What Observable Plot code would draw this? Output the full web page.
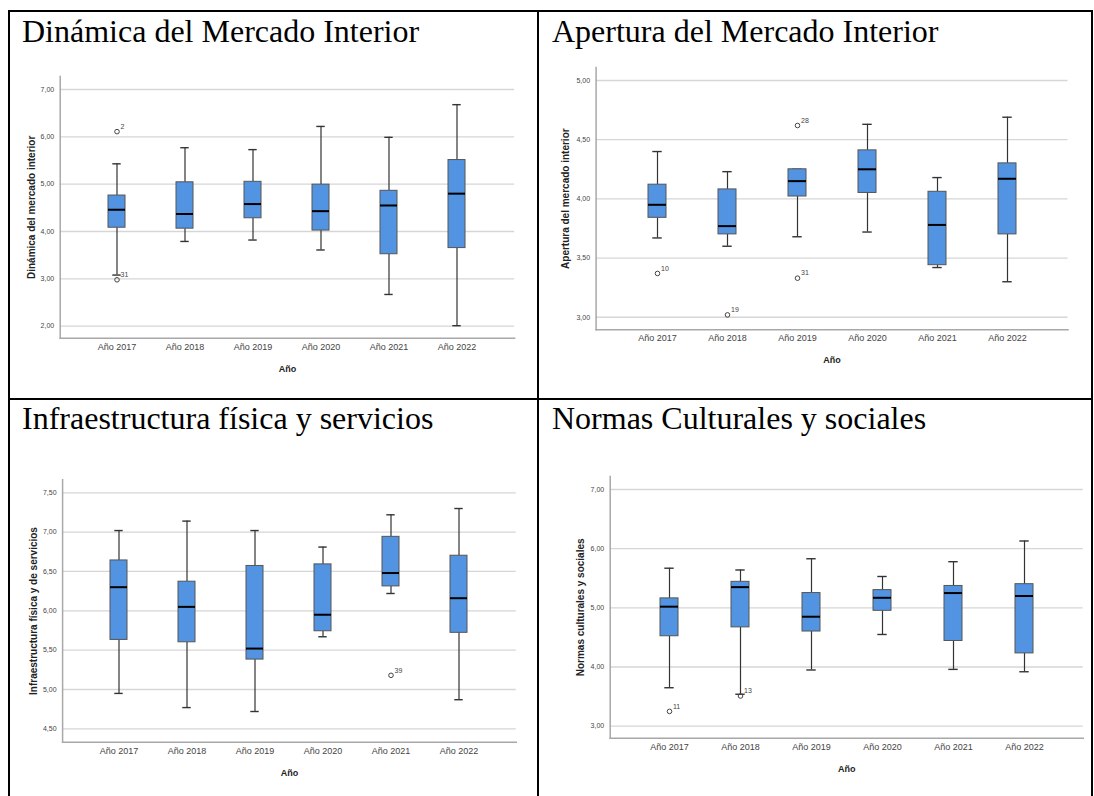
<!DOCTYPE html>
<html><head><meta charset="utf-8">
<script src="https://cdn.jsdelivr.net/npm/d3@7"></script>
<script src="https://cdn.jsdelivr.net/npm/@observablehq/plot@0.6"></script>
<style>
body{margin:0;background:#fff;}
#page{position:relative;width:1094px;height:796px;overflow:hidden;background:#fff;}
.ln{position:absolute;background:#000;}
.title{position:absolute;font-family:"Liberation Serif","Times New Roman",serif;font-size:32px;line-height:32px;color:#000;white-space:nowrap;}
.panel{position:absolute;}
.panel svg{display:block;}
</style></head>
<body>
<div id="page">
  <div class="ln" style="left:8px;top:10px;width:1085px;height:2px"></div>
  <div class="ln" style="left:8px;top:10px;width:2px;height:786px"></div>
  <div class="ln" style="left:536.5px;top:10px;width:2px;height:786px"></div>
  <div class="ln" style="left:1091px;top:10px;width:2px;height:786px"></div>
  <div class="ln" style="left:8px;top:397.5px;width:1085px;height:2px"></div>
  <div class="title" style="left:22px;top:14.5px">Dinámica del Mercado Interior</div>
  <div class="title" style="left:552px;top:14.5px">Apertura del Mercado Interior</div>
  <div class="title" style="left:22px;top:402px">Infraestructura física y servicios</div>
  <div class="title" style="left:552px;top:402px">Normas Culturales y sociales</div>
  <div class="panel" id="p1" style="left:0px;top:60px"></div>
  <div class="panel" id="p2" style="left:540px;top:60px"></div>
  <div class="panel" id="p3" style="left:0px;top:460px"></div>
  <div class="panel" id="p4" style="left:540px;top:460px"></div>
</div>
<script>
const years = ["Año 2017", "Año 2018", "Año 2019", "Año 2020", "Año 2021", "Año 2022"];

// Dinámica del mercado interior
const dinLo  = [3.08, 3.79, 3.82, 3.61, 2.67, 2.01];
const dinQ1  = [4.08, 4.06, 4.28, 4.02, 3.52, 3.65];
const dinMed = [4.46, 4.37, 4.58, 4.43, 4.55, 4.80];
const dinQ3  = [4.76, 5.04, 5.05, 4.99, 4.86, 5.51];
const dinHi  = [5.43, 5.77, 5.73, 6.22, 5.99, 6.68];
const dinOutYear = ["Año 2017", "Año 2017"];
const dinOutVal  = [6.11, 2.98];
const dinOutLab  = ["2", "31"];
const dinTicks = [2, 3, 4, 5, 6, 7];

// Apertura del mercado interior
const aperLo  = [3.67, 3.60, 3.68, 3.72, 3.42, 3.30];
const aperQ1  = [3.84, 3.70, 4.02, 4.05, 3.44, 3.70];
const aperMed = [3.95, 3.77, 4.15, 4.25, 3.78, 4.17];
const aperQ3  = [4.12, 4.08, 4.25, 4.41, 4.06, 4.30];
const aperHi  = [4.40, 4.23, 4.25, 4.63, 4.18, 4.69];
const aperOutYear = ["Año 2017", "Año 2018", "Año 2019", "Año 2019"];
const aperOutVal  = [3.37, 3.02, 4.62, 3.33];
const aperOutLab  = ["10", "19", "28", "31"];
const aperTicks = [3, 3.5, 4, 4.5, 5];

// Infraestructura física y de servicios
const infLo  = [4.95, 4.77, 4.72, 5.67, 6.22, 4.87];
const infQ1  = [5.63, 5.60, 5.38, 5.74, 6.31, 5.72];
const infMed = [6.30, 6.05, 5.52, 5.95, 6.48, 6.16];
const infQ3  = [6.64, 6.37, 6.57, 6.59, 6.94, 6.70];
const infHi  = [7.02, 7.14, 7.02, 6.81, 7.22, 7.30];
const infOutYear = ["Año 2021"];
const infOutVal  = [5.18];
const infOutLab  = ["39"];
const infTicks = [4.5, 5, 5.5, 6, 6.5, 7, 7.5];

// Normas culturales y sociales
const norLo  = [3.65, 3.54, 3.95, 4.55, 3.96, 3.92];
const norQ1  = [4.52, 4.67, 4.60, 4.95, 4.44, 4.23];
const norMed = [5.02, 5.35, 4.85, 5.17, 5.25, 5.20];
const norQ3  = [5.16, 5.44, 5.25, 5.30, 5.37, 5.40];
const norHi  = [5.67, 5.64, 5.83, 5.53, 5.78, 6.13];
const norOutYear = ["Año 2017", "Año 2018"];
const norOutVal  = [3.25, 3.51];
const norOutLab  = ["11", "13"];
const norTicks = [3, 4, 5, 6, 7];

const fmt = d => d3.format(".2f")(d).replace(".", ",");

function boxRows(lo, q1, med, q3, hi) {
  return years.map((y, i) => ({year: y, lo: lo[i], q1: q1[i], med: med[i], q3: q3[i], hi: hi[i]}));
}
function outRows(ys, vs, ls) {
  return ys.map((y, i) => ({year: y, v: vs[i], label: ls[i]}));
}

function chart(o) {
  const ink = "#333";
  return Plot.plot({
    width: o.width, height: o.height,
    marginLeft: o.ml, marginRight: o.mr, marginTop: o.mt, marginBottom: o.mb,
    style: {background: "transparent", fontFamily: "'Liberation Sans', Arial, sans-serif", overflow: "visible"},
    x: {domain: years, paddingInner: 0.75, paddingOuter: 0.7},
    y: {domain: o.yDomain},
    marks: [
      Plot.gridY(o.ticks, {stroke: "#d6d6d6", strokeOpacity: 1, strokeWidth: 1.3}),
      Plot.axisY(o.ticks, {tickSize: 0, tickPadding: 6, tickFormat: fmt, fontSize: 7, fill: "#444", label: null}),
      Plot.axisX({tickSize: 0, tickPadding: 5, fontSize: 9, fill: "#444", label: null}),
      Plot.frame({anchor: "left", stroke: "#a8a8a8", strokeWidth: 1.5}),
      Plot.frame({anchor: "bottom", stroke: "#a8a8a8", strokeWidth: 1.5}),
      Plot.ruleX(o.rows, {x: "year", y1: "lo", y2: "q1", stroke: ink, strokeWidth: 1.2}),
      Plot.ruleX(o.rows, {x: "year", y1: "q3", y2: "hi", stroke: ink, strokeWidth: 1.2}),
      Plot.tickY(o.rows, {x: "year", y: "lo", insetLeft: 4.3, insetRight: 4.3, stroke: ink, strokeWidth: 1.4}),
      Plot.tickY(o.rows, {x: "year", y: "hi", insetLeft: 4.3, insetRight: 4.3, stroke: ink, strokeWidth: 1.4}),
      Plot.barY(o.rows, {x: "year", y1: "q1", y2: "q3", fill: "#5294e2", stroke: "#555", strokeWidth: 1}),
      Plot.tickY(o.rows, {x: "year", y: "med", stroke: "#000", strokeWidth: 2}),
      Plot.dot(o.outs, {x: "year", y: "v", r: 2.3, stroke: "#444", fill: "none", strokeWidth: 1}),
      Plot.text(o.outs, {x: "year", y: "v", text: "label", dx: 3.5, dy: -5, textAnchor: "start", fontSize: 7, fill: "#444"}),
      Plot.text([o.yLabel], {frameAnchor: "left", rotate: -90, dx: -o.yTitleOff, textAnchor: "middle", lineAnchor: "middle", fontWeight: "bold", fontSize: 10, fill: "#222"}),
      Plot.text(["Año"], {frameAnchor: "bottom", dy: 30.5, textAnchor: "middle", lineAnchor: "middle", fontWeight: "bold", fontSize: 9, fill: "#222"})
    ]
  });
}

document.getElementById("p1").append(chart({
  width: 540, height: 330, ml: 59.7, mr: 25.9, mt: 16, mb: 52.3,
  yDomain: [1.746, 7.275], ticks: dinTicks,
  rows: boxRows(dinLo, dinQ1, dinMed, dinQ3, dinHi),
  outs: outRows(dinOutYear, dinOutVal, dinOutLab),
  yLabel: "Dinámica del mercado interior", yTitleOff: 28.7
}));
document.getElementById("p2").append(chart({
  width: 554, height: 330, ml: 55.6, mr: 26.5, mt: 7, mb: 60.7,
  yDomain: [2.894, 5.11], ticks: aperTicks,
  rows: boxRows(aperLo, aperQ1, aperMed, aperQ3, aperHi),
  outs: outRows(aperOutYear, aperOutVal, aperOutLab),
  yLabel: "Apertura del mercado interior", yTitleOff: 30
}));
document.getElementById("p3").append(chart({
  width: 540, height: 336, ml: 62.1, mr: 24.2, mt: 19.3, mb: 54.3,
  yDomain: [4.33, 7.665], ticks: infTicks,
  rows: boxRows(infLo, infQ1, infMed, infQ3, infHi),
  outs: outRows(infOutYear, infOutVal, infOutLab),
  yLabel: "Infraestructura física y de servicios", yTitleOff: 28.6
}));
document.getElementById("p4").append(chart({
  width: 554, height: 336, ml: 69.7, mr: 11.3, mt: 16, mb: 58.3,
  yDomain: [2.797, 7.22], ticks: norTicks,
  rows: boxRows(norLo, norQ1, norMed, norQ3, norHi),
  outs: outRows(norOutYear, norOutVal, norOutLab),
  yLabel: "Normas culturales y sociales", yTitleOff: 29.7
}));
</script>
</body></html>
